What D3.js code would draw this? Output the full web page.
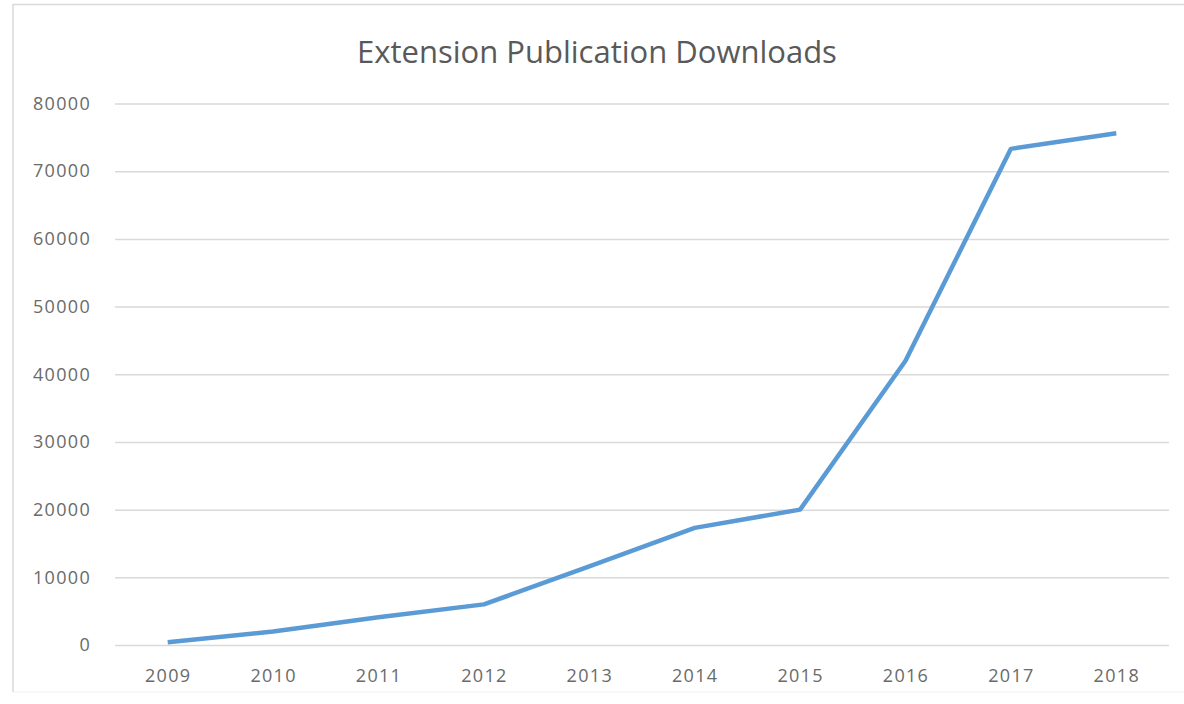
<!DOCTYPE html>
<html>
<head>
  <meta charset="UTF-8">
  <title>Extension Publication Downloads</title>
  <style>
    body { margin: 0; background: #fff; }
    text { font-family: "Open Sans", sans-serif; }
  </style>
</head>
<body>
  <script src="https://cdn.jsdelivr.net/npm/d3@7"></script>
  <script>
    // data
    var years = ["2009", "2010", "2011", "2012", "2013", "2014", "2015", "2016", "2017", "2018"];
    var downloads = [400, 2000, 4100, 6000, 11600, 17300, 20000, 42000, 73300, 75600];
    var yTicks = [0, 10000, 20000, 30000, 40000, 50000, 60000, 70000, 80000];

    var width = 1184;
    var height = 704;
    var plotLeft = 115, plotRight = 1169, plotTop = 103.5, plotBottom = 645;

    var svg = d3.select("body").append("svg")
      .attr("width", width)
      .attr("height", height);

    // light frame round the chart area
    svg.append("path")
      .attr("d", "M13,692 L13,4.5 L1184,4.5")
      .attr("fill", "none")
      .attr("stroke", "#d9d9d9")
      .attr("stroke-width", 1.5);
    svg.append("line")
      .attr("x1", 13).attr("x2", 1184)
      .attr("y1", 692).attr("y2", 692)
      .attr("stroke", "#f0f0f0");

    var x = d3.scalePoint().domain(years).range([plotLeft, plotRight]).padding(0.5);
    var y = d3.scaleLinear().domain([0, 80000]).range([plotBottom, plotTop]);

    // gridlines + y labels
    var yAxis = d3.axisLeft(y).tickValues(yTicks)
      .tickSize(-(plotRight - plotLeft)).tickPadding(24)
      .tickFormat(d3.format("d"));
    var gy = svg.append("g")
      .attr("transform", "translate(" + plotLeft + ",0)")
      .call(yAxis);
    gy.select(".domain").remove();
    gy.selectAll(".tick line").attr("stroke", "#d9d9d9").attr("stroke-width", 1.5);
    gy.selectAll(".tick text")
      .attr("fill", "#6a6a6a")
      .style("font-size", "18px")
      .style("letter-spacing", "1.3px");

    // x labels
    var xAxis = d3.axisBottom(x).tickSize(0).tickPadding(24);
    var gx = svg.append("g")
      .attr("transform", "translate(0," + plotBottom + ")")
      .call(xAxis);
    gx.select(".domain").remove();
    gx.selectAll(".tick text")
      .attr("fill", "#6a6a6a")
      .style("font-size", "18px")
      .style("letter-spacing", "1.3px");

    // the series line
    var line = d3.line()
      .x(function(d, i) { return x(years[i]); })
      .y(function(d) { return y(d); });
    svg.append("path")
      .datum(downloads)
      .attr("d", line)
      .attr("fill", "none")
      .attr("stroke", "#5b9bd5")
      .attr("stroke-width", 4.5)
      .attr("stroke-linejoin", "round");

    // title
    svg.append("text")
      .attr("x", 597)
      .attr("y", 63)
      .attr("text-anchor", "middle")
      .attr("fill", "#595959")
      .style("font-size", "31px")
      .text("Extension Publication Downloads");
  </script>
</body>
</html>
